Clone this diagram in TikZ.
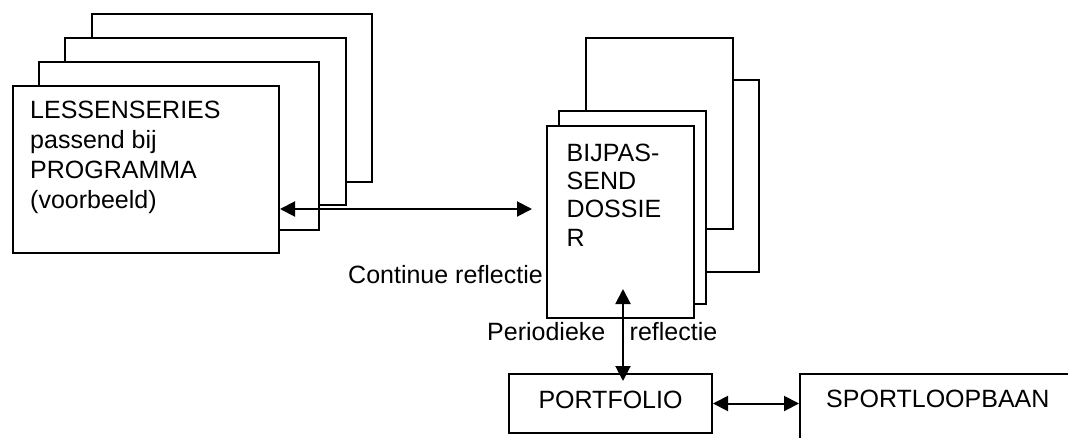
\documentclass[tikz,border=0pt]{standalone}
\usepackage{fontspec}
\setmainfont{Liberation Sans}
\usetikzlibrary{arrows.meta,calc}
\tikzset{
  sheet/.style={draw, fill=white, line width=2pt, inner sep=0pt, anchor=north west},
  lbl/.style={inner sep=0pt, font=\fontsize{25}{30}\selectfont},
  conn/.style={line width=2pt, {Triangle[length=15pt,width=15pt]}-{Triangle[length=15pt,width=15pt]}}
}
\begin{document}
\begin{tikzpicture}[x=1pt,y=-1pt]
\path[use as bounding box] (0,0) rectangle (1068,437);
\clip (0,0) rectangle (1068,437);
% left stack (back to front)
\node[sheet, minimum width=280pt, minimum height=168pt] (lsD) at (91,13) {};
\node[sheet, minimum width=281pt, minimum height=167pt] (lsC) at (64,37) {};
\node[sheet, minimum width=280pt, minimum height=168pt] (lsB) at (38,61) {};
\node[sheet, minimum width=266pt, minimum height=167pt] (lsA) at (12,85) {};
\node[lbl, anchor=north west, align=left] (lstext) at (30,101.1)
  {LESSENSERIES\\passend bij\\PROGRAMMA\\(voorbeeld)};
% dossier stack (back to front)
\node[sheet, minimum width=147pt, minimum height=192pt] (dD) at (611,79) {};
\node[sheet, minimum width=147pt, minimum height=191pt] (dC) at (585,37) {};
\node[sheet, minimum width=147pt, minimum height=193pt] (dB) at (558,110) {};
\node[sheet, minimum width=147pt, minimum height=192pt] (dA) at (546,125) {};
\node[lbl, font=\fontsize{25}{28.4}\selectfont, anchor=north west, align=left] (dtext) at (566.5,143.5)
  {BIJPAS-\\SEND\\DOSSIE\\R};
% bottom boxes
\node[sheet, minimum width=203pt, minimum height=59pt, font=\fontsize{25}{30}\selectfont,
      text height=18.2pt, text depth=7.8pt] (port) at (508,373) {PORTFOLIO};
\node[sheet, minimum width=320pt, minimum height=120pt] (sport) at (799,373) {};
\node[lbl, anchor=base west] (sporttext) at (826,407) {SPORTLOOPBAAN};
% labels
\node[lbl, anchor=base east] (cont) at (543,283) {Continue reflectie};
\node[lbl, anchor=base west] (per) at (487,340.7) {Periodieke};
\node[lbl, anchor=base west] (refl) at (629.5,340.7) {reflectie};
% connectors
\coordinate (aend) at (532,209);
\draw[conn] (lsA.east |- aend) -- (aend);
\coordinate (vx) at (623,0);
\draw[conn] ($(dA.south -| vx)+(0,-30)$) -- ($(port.north -| vx)+(0,8)$);
\draw[conn] (port.east) -- (port.east -| sport.west);
\end{tikzpicture}
\end{document}
